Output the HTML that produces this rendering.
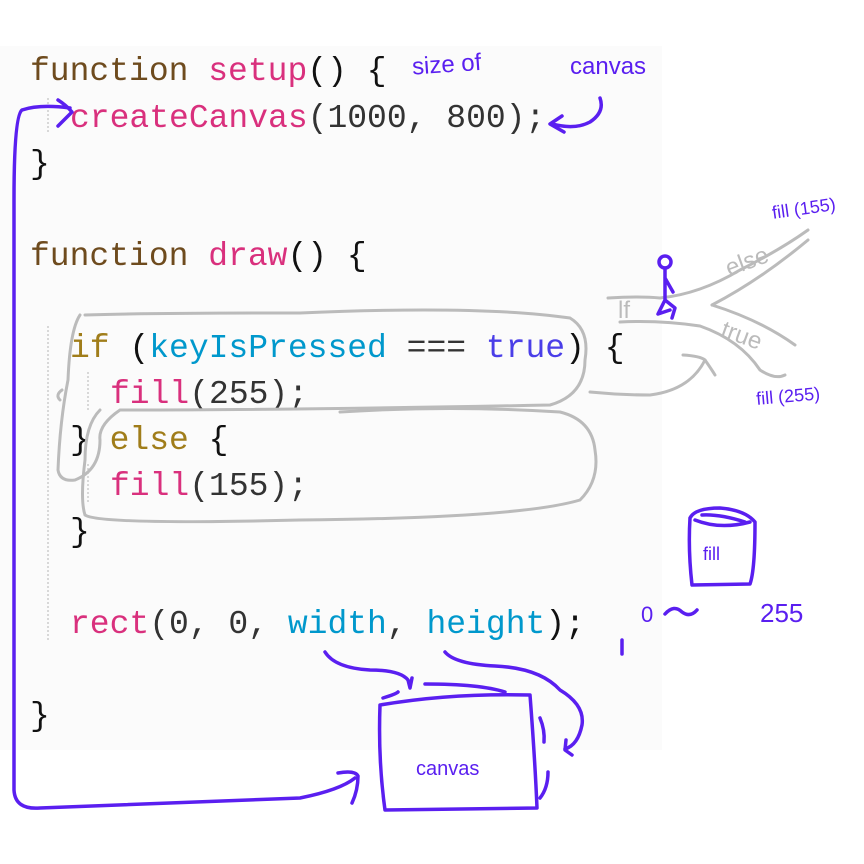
<!DOCTYPE html>
<html><head><meta charset="utf-8"><style>
html,body{margin:0;padding:0;background:#fff;width:864px;height:864px;overflow:hidden}
svg{display:block}
.c{font-family:"Liberation Mono",monospace;font-size:33px}
.h{font-family:"Liberation Sans",sans-serif;fill:#5a1ff0}
</style></head><body>
<svg width="864" height="864" viewBox="0 0 864 864">
<rect x="0" y="46" width="662" height="704" fill="#fbfbfb"/>
<g fill="none" stroke="#ccc" stroke-dasharray="2,2" stroke-width="1.5">
<line x1="48" y1="98" x2="48" y2="134"/>
<line x1="48" y1="326" x2="48" y2="640"/>
<line x1="88" y1="372" x2="88" y2="410"/>
<line x1="88" y1="464" x2="88" y2="502"/>
</g>
<g class="c">
<text x="30" y="80"><tspan fill="#6e4b1e">function</tspan> <tspan fill="#d9307d">setup</tspan><tspan fill="#111">() {</tspan></text>
<text x="70" y="127"><tspan fill="#d9307d">createCanvas</tspan><tspan fill="#333">(1000, 800);</tspan></text>
<text x="30" y="173" fill="#111">}</text>
<text x="30" y="265"><tspan fill="#6e4b1e">function</tspan> <tspan fill="#d9307d">draw</tspan><tspan fill="#111">() {</tspan></text>
<text x="70" y="357"><tspan fill="#a07d1a">if</tspan><tspan fill="#111"> (</tspan><tspan fill="#0098cc">keyIsPressed</tspan><tspan fill="#333"> === </tspan><tspan fill="#4a3ee8">true</tspan><tspan fill="#111">) {</tspan></text>
<text x="110" y="403"><tspan fill="#d9307d">fill</tspan><tspan fill="#333">(255);</tspan></text>
<text x="70" y="449"><tspan fill="#111">} </tspan><tspan fill="#a07d1a">else</tspan><tspan fill="#111"> {</tspan></text>
<text x="110" y="495"><tspan fill="#d9307d">fill</tspan><tspan fill="#333">(155);</tspan></text>
<text x="70" y="541" fill="#111">}</text>
<text x="70" y="633"><tspan fill="#d9307d">rect</tspan><tspan fill="#333">(0, 0, </tspan><tspan fill="#0098cc">width</tspan><tspan fill="#333">, </tspan><tspan fill="#0098cc">height</tspan><tspan fill="#111">);</tspan></text>
<text x="30" y="725" fill="#111">}</text>
</g>
<g fill="none" stroke="#bbb" stroke-width="3" stroke-linecap="round">
<path d="M80 315 Q70 330 68 380 Q60 420 58 470 Q60 482 75 480 Q100 470 100 440 Q98 425 120 410 Q300 410 550 405 Q585 395 585 360 Q590 330 570 318 Q480 305 300 313 Q150 313 85 315"/>
<path d="M60 400 Q55 395 62 390"/>
<path d="M100 410 Q85 425 85 460 Q80 500 85 515 Q100 525 300 520 Q520 518 580 500 Q600 480 595 450 Q592 420 560 412 Q450 405 340 412"/>
<path d="M608 298 Q640 296 660 298 Q700 294 740 270 Q780 250 808 230"/>
<path d="M620 322 Q660 320 700 326 Q740 340 760 370 Q775 380 785 375"/>
<path d="M712 305 Q760 280 808 240"/>
<path d="M712 305 Q760 320 795 345"/>
<path d="M590 392 Q620 395 650 395 Q690 390 705 360"/>
<path d="M683 355 Q700 356 705 360 Q712 370 715 375"/>
<text x="618" y="318" font-family="Liberation Sans,sans-serif" font-size="24" fill="#bbb" stroke="none">lf</text>
<text x="725" y="270" font-family="Liberation Sans,sans-serif" font-size="24" fill="#bbb" stroke="none" transform="rotate(-20 745 262)">else</text>
<text x="718" y="345" font-family="Liberation Sans,sans-serif" font-size="24" fill="#bbb" stroke="none" transform="rotate(20 745 345)">true</text>
</g>
<g fill="none" stroke="#5a1ff0" stroke-width="3.5" stroke-linecap="round" stroke-linejoin="round">
<path d="M70 108 Q40 104 22 110 Q14 116 14 200 L14 790 Q15 810 40 808 Q150 804 300 798 Q340 790 355 778"/>
<path d="M338 773 Q355 770 358 776 Q358 790 352 803"/>
<path d="M58 100 Q66 105 72 112 Q64 120 58 126"/>
<path d="M600 98 Q605 112 590 122 Q575 130 552 124"/>
<path d="M562 116 L550 124 L564 132"/>
<path d="M380 705 Q378 760 385 810 L537 808 Q535 760 530 695 Q450 693 380 705 Z"/>
<path d="M383 698 Q396 694 398 692"/>
<path d="M425 684 Q480 684 505 692"/>
<path d="M325 652 Q335 668 370 670 Q400 670 408 680 L410 688 L412 678"/>
<path d="M445 652 Q455 664 495 666 Q540 668 560 690 Q585 705 582 725 Q578 745 565 749"/>
<path d="M566 740 L565 750 L572 755"/>
<path d="M540 718 Q545 730 544 742"/>
<path d="M548 772 Q548 788 540 798"/>
<path d="M690 518 Q688 550 692 585 L750 584 Q755 570 755 522 Q745 510 720 508 Q695 508 690 518"/>
<path d="M695 520 Q720 530 750 522"/>
<path d="M702 515 Q720 514 745 522"/>
<path d="M665 614 Q674 604 682 612 Q690 618 697 610"/>
<path d="M622 640 L622 654"/>
<circle cx="665" cy="262" r="6"/>
<path d="M665 268 L665 300 L658 314 L670 310 M665 278 L673 292 M665 300 L675 308 L672 318"/>
</g>
<g class="h">
<text x="412" y="72" font-size="24" transform="rotate(-4 450 65)">size of</text>
<text x="570" y="74" font-size="24">canvas</text>
<text x="772" y="215" font-size="18" transform="rotate(-8 800 210)">fill (155)</text>
<text x="756" y="402" font-size="18" transform="rotate(-5 790 395)">fill (255)</text>
<text x="703" y="560" font-size="18">fill</text>
<text x="641" y="622" font-size="22">0</text>
<text x="760" y="622" font-size="26">255</text>
<text x="416" y="775" font-size="20">canvas</text>
</g>
</svg>
</body></html>
